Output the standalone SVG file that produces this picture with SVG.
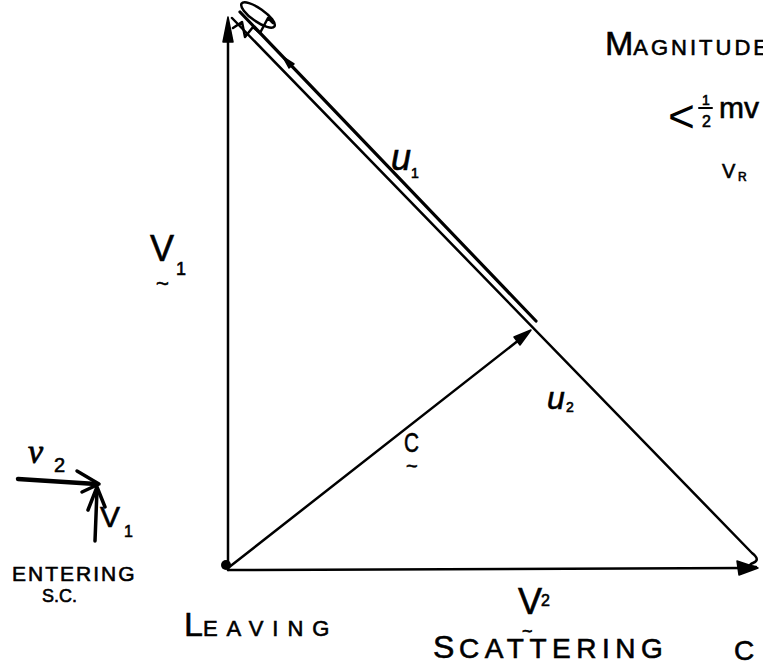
<svg xmlns="http://www.w3.org/2000/svg" width="763" height="664" viewBox="0 0 763 664">
<defs>
<style>
.ln{stroke:#000;stroke-width:2.5;fill:none;stroke-linecap:round;stroke-linejoin:round}
.ah{fill:#000;stroke:#000;stroke-width:1.5;stroke-linejoin:round}
.t{font-family:"Liberation Sans",Arial,sans-serif;fill:#000;stroke:#000;stroke-width:0.6}
.s{font-family:"Liberation Serif","Times New Roman",serif;fill:#000;stroke:#000;stroke-width:0.8}
.i{font-style:italic}
</style>
</defs>
<rect width="763" height="664" fill="#fff"/>
<g id="connectors">
  <line class="ln" x1="228" y1="570" x2="228" y2="24"/>
  <polygon class="ah" points="228,17 223,42 233,42"/>
  <line class="ln" x1="228" y1="570" x2="745" y2="568"/>
  <polygon class="ah" points="758,568 737,561 739,575"/>
  <line class="ln" x1="228" y1="568" x2="524" y2="336"/>
  <polygon class="ah" points="531,330 514,337 520,345"/>
  <path class="ln" d="M232,18 L752,553 Q761,560 753,563 Q746,566 756,567"/>
  <line class="ln" style="stroke-width:3.2" x1="240" y1="12" x2="536" y2="321"/>
  <polygon class="ah" points="283,57 294,64 289,68"/>
  <ellipse class="ln" cx="258" cy="15" rx="20" ry="6.5" transform="rotate(35 258 15)"/>
  <polyline class="ln" points="233,28 242,22 245,37 253,27 260,33 268,18 273,23"/>
</g>
<g id="origin">
  <circle cx="226" cy="565" r="5" fill="#000"/>
</g>
<g id="entering">
  <line class="ln" style="stroke-width:4.5" x1="18" y1="479" x2="96" y2="484"/>
  <polyline class="ln" style="stroke-width:3.5" points="77,471 99,484 82,492"/>
  <line class="ln" style="stroke-width:3.5" x1="95" y1="541" x2="97" y2="490"/>
  <polyline class="ln" style="stroke-width:3.5" points="88,510 97,487 105,507"/>
  <text class="s i" x="28" y="463" font-size="34">v</text>
  <text class="t" x="54" y="472" font-size="20">2</text>
  <text class="t" x="100" y="527" font-size="30">V</text>
  <text class="t" x="124" y="537" font-size="16">1</text>
  <text class="t" x="12" y="581" font-size="21" letter-spacing="2">ENTERING</text>
  <text class="t" x="42" y="602" font-size="18">S.C.</text>
</g>
<g id="label-V1">
  <text class="t" x="150" y="261" font-size="36">V</text>
  <text class="t" x="176" y="275" font-size="18">1</text>
  <text class="t" x="156" y="291" font-size="22">~</text>
</g>
<g id="label-u1">
  <text class="t i" x="391" y="170" font-size="36">u</text>
  <text class="t" x="411" y="178" font-size="14">1</text>
</g>
<g id="label-u2">
  <text class="t i" x="547" y="409" font-size="32">u</text>
  <text class="t" x="566" y="412" font-size="14">2</text>
</g>
<g id="label-c">
  <text class="t" x="404" y="452" font-size="28" textLength="15" lengthAdjust="spacingAndGlyphs">C</text>
  <text class="t" x="406" y="473" font-size="20">~</text>
</g>
<g id="label-V2">
  <text class="t" x="518" y="614" font-size="36">V</text>
  <text class="t" x="541" y="606" font-size="16">2</text>
  <text class="t" x="522" y="637" font-size="18">~</text>
</g>
<g id="notes">
  <text class="t" y="55"><tspan x="605" font-size="34">M</tspan><tspan font-size="22" letter-spacing="3">AGNITUDE</tspan></text>
  <text class="t" x="668" y="132" font-size="46" style="stroke-width:0">&lt;</text>
  <text class="t" x="702" y="105" font-size="14">1</text>
  <line class="ln" style="stroke-width:2" x1="699" y1="108" x2="712" y2="108"/>
  <text class="t" x="702" y="127" font-size="16">2</text>
  <text class="t" x="719" y="118" font-size="30">mv</text>
  <text class="t" x="722" y="178" font-size="20">V</text>
  <text class="t" x="738" y="181" font-size="12">R</text>
</g>
<g id="caption">
  <text class="t" y="636"><tspan x="184" font-size="34">L</tspan><tspan font-size="22" letter-spacing="9">EAVING</tspan></text>
  <text class="t" y="658"><tspan x="433" font-size="32">S</tspan><tspan x="459" font-size="28" letter-spacing="5.5">CATTERING</tspan></text>
  <text class="t" x="734" y="660" font-size="28">C</text>
</g>
</svg>
